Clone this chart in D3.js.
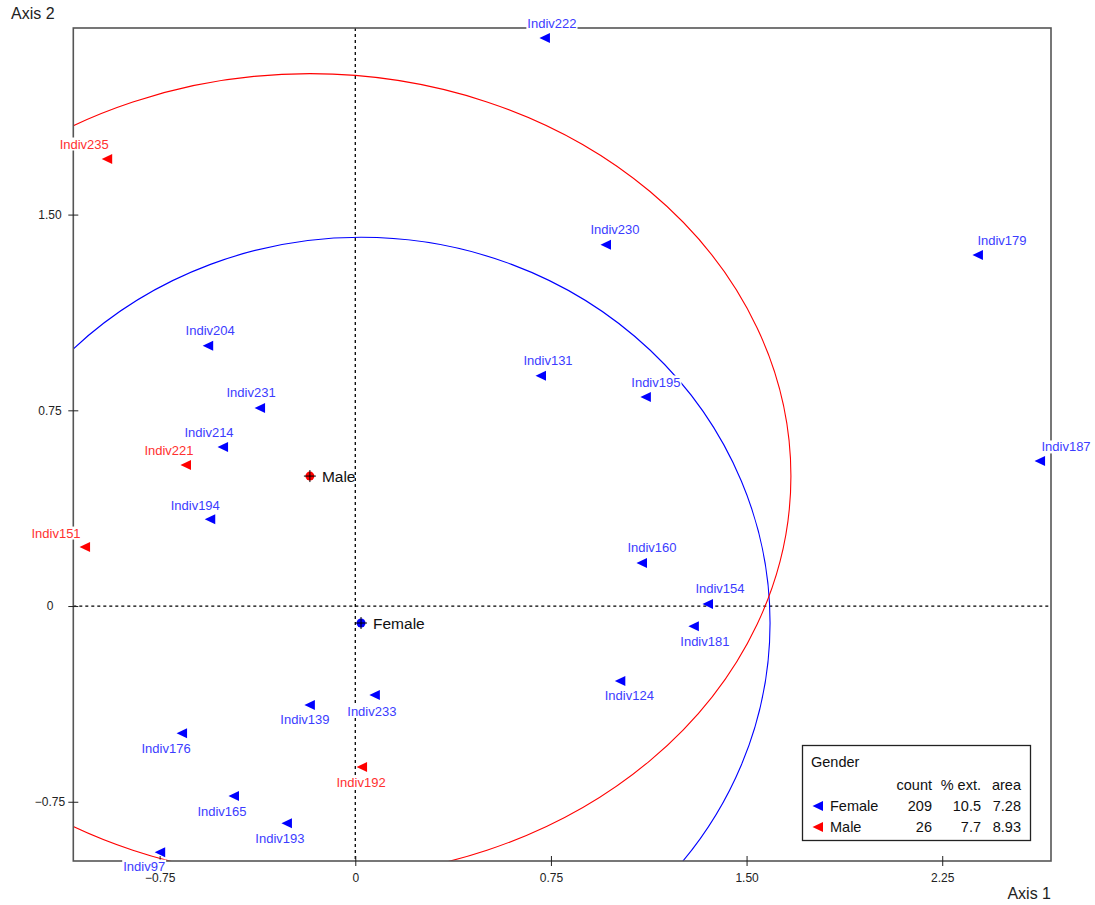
<!DOCTYPE html>
<html>
<head>
<meta charset="utf-8">
<script src="https://cdn.jsdelivr.net/npm/d3@7"></script>
<style>
  html, body { margin: 0; padding: 0; background: #fff; }
  svg { display: block; font-family: "Liberation Sans", Arial, sans-serif; }
</style>
</head>
<body>
<svg id="chart" width="1095" height="905"></svg>
<script>
// Individuals on the first factorial plane, grouped by gender
const indivNames = ["Indiv222","Indiv235","Indiv230","Indiv179","Indiv204","Indiv131","Indiv195","Indiv231",
  "Indiv214","Indiv221","Indiv187","Indiv194","Indiv151","Indiv160","Indiv154","Indiv181",
  "Indiv124","Indiv233","Indiv139","Indiv176","Indiv192","Indiv165","Indiv193","Indiv97"];
const indivAxis1 = [0.727,-0.951,0.961,2.387,-0.564,0.712,1.114,-0.365,
  -0.507,-0.649,2.625,-0.556,-1.036,1.099,1.352,1.298,
  1.016,0.075,-0.174,-0.664,0.026,-0.465,-0.262,-0.748];
const indivAxis2 = [2.177,1.713,1.384,1.345,0.997,0.882,0.801,0.759,
  0.609,0.540,0.556,0.333,0.226,0.165,0.008,-0.077,
  -0.287,-0.341,-0.379,-0.487,-0.617,-0.728,-0.832,-0.943];
const indivGender = ["Female","Male","Female","Female","Female","Female","Female","Female",
  "Female","Male","Female","Female","Male","Female","Female","Female",
  "Female","Female","Female","Female","Male","Female","Female","Female"];

// Label placement relative to each marker (pixels)
const labelDx = [7,-23,9,24,2,7,10,-9,-14,-17,26,-15,-29,10,12,11,9,-3,-5,-16,-1,-12,-7,-16];
const labelDy = [-14,-15,-15,-15,-15,-15,-15,-15,-15,-15,-14,-14,-14,-15,-15,15,15,16,15,15,15,15,15,14];

// Class centroids and ellipse half-axes
const groups = ["Female","Male"];
const groupAxis1 = [0.022,-0.174];
const groupAxis2 = [-0.065,0.498];
const groupRx = [1.568,1.844];
const groupRy = [1.478,1.542];
const groupCount = [209,26];
const groupExt = ["10.5","7.7"];
const groupArea = ["7.28","8.93"];
const groupColor = ["#0000ff","#ff0000"];
const labelColor = ["#3c3cff","#ff3030"];

const xTicks = [-0.75, 0, 0.75, 1.5, 2.25];
const yTicks = [-0.75, 0, 0.75, 1.5];
const fmtTick = v => v === 0 ? "0" : d3.format(".2f")(v);

const svg = d3.select("#chart");
const pLeft = 73.3, pRight = 1051, pTop = 28, pBottom = 861;
const x = d3.scaleLinear().domain([-1.081, 2.667]).range([pLeft, pRight]);
const y = d3.scaleLinear().domain([-0.977, 2.215]).range([pBottom, pTop]);

svg.append("defs").append("clipPath").attr("id", "plotClip")
  .append("rect").attr("x", pLeft).attr("y", pTop).attr("width", pRight - pLeft).attr("height", pBottom - pTop);

// Dashed zero lines
const plot = svg.append("g").attr("clip-path", "url(#plotClip)");
plot.append("line").attr("x1", x(0)).attr("x2", x(0)).attr("y1", pTop).attr("y2", pBottom)
  .attr("stroke", "#000").attr("stroke-width", 1.3).attr("stroke-dasharray", "3,3");
plot.append("line").attr("x1", pLeft).attr("x2", pRight).attr("y1", y(0)).attr("y2", y(0))
  .attr("stroke", "#000").attr("stroke-width", 1.3).attr("stroke-dasharray", "3,3");

// Class ellipses
groups.forEach((g, i) => {
  plot.append("ellipse")
    .attr("cx", x(groupAxis1[i])).attr("cy", y(groupAxis2[i]))
    .attr("rx", x(groupRx[i]) - x(0)).attr("ry", y(0) - y(groupRy[i]))
    .attr("fill", "none").attr("stroke", groupColor[i]).attr("stroke-width", 1.1);
});

// Frame
svg.append("rect").attr("x", pLeft).attr("y", pTop).attr("width", pRight - pLeft).attr("height", pBottom - pTop)
  .attr("fill", "none").attr("stroke", "#555").attr("stroke-width", 1.6);

// Axes with ticks crossing the frame
const xAxis = svg.append("g").attr("transform", `translate(0,${pBottom})`)
  .call(d3.axisBottom(x).tickValues(xTicks).tickFormat(fmtTick).tickSize(5).tickPadding(7));
xAxis.select(".domain").remove();
xAxis.selectAll(".tick line").attr("y1", -5).attr("stroke", "#222");
xAxis.selectAll(".tick text").attr("font-size", 12).attr("fill", "#222").attr("font-family", "Liberation Sans, Arial, sans-serif");

const yAxis = svg.append("g").attr("transform", `translate(${pLeft},0)`)
  .call(d3.axisLeft(y).tickValues(yTicks).tickFormat(fmtTick).tickSize(5).tickPadding(8));
yAxis.select(".domain").remove();
yAxis.selectAll(".tick line").attr("x1", 5).attr("stroke", "#222");
yAxis.selectAll(".tick text").attr("font-size", 12).attr("fill", "#222")
  .attr("text-anchor", "middle").attr("x", 50 - pLeft)
  .attr("font-family", "Liberation Sans, Arial, sans-serif");

svg.append("text").attr("x", 1051).attr("y", 899).attr("text-anchor", "end")
  .attr("font-size", 16).attr("fill", "#222").text("Axis 1");
svg.append("text").attr("x", 11).attr("y", 19)
  .attr("font-size", 16).attr("fill", "#222").text("Axis 2");

// Left-pointing triangle marker
const tri = d3.line()([[-5.5, 0], [5, -5], [5, 5]]) + "Z";

const points = indivNames.map((n, i) => ({
  name: n, a1: indivAxis1[i], a2: indivAxis2[i], g: groups.indexOf(indivGender[i]),
  dx: labelDx[i], dy: labelDy[i]
}));

svg.append("g").selectAll("path").data(points).join("path")
  .attr("d", tri)
  .attr("transform", d => `translate(${x(d.a1)},${y(d.a2)})`)
  .attr("fill", d => groupColor[d.g]);

// Individual labels on white boxes
const labG = svg.append("g");
points.forEach(d => {
  const g = labG.append("g");
  const t = g.append("text")
    .attr("x", x(d.a1) + d.dx).attr("y", y(d.a2) + d.dy + 4.5)
    .attr("text-anchor", "middle").attr("font-size", 13)
    .attr("fill", labelColor[d.g]).text(d.name);
  const b = t.node().getBBox();
  g.insert("rect", "text").attr("x", b.x - 1).attr("y", b.y + 1).attr("width", b.width + 2).attr("height", b.height - 2)
    .attr("fill", "#fff");
});

// Class centroids
groups.forEach((g, i) => {
  const cx = x(groupAxis1[i]), cy = y(groupAxis2[i]);
  svg.append("circle").attr("cx", cx).attr("cy", cy).attr("r", 4.5).attr("fill", groupColor[i]);
  svg.append("path").attr("d", `M${cx - 6},${cy}H${cx + 6}M${cx},${cy - 6}V${cy + 6}`)
    .attr("stroke", "#000").attr("stroke-width", 1);
  svg.append("text").attr("x", cx + 12).attr("y", cy + 6).attr("font-size", 15.5)
    .attr("fill", "#111").text(g);
});

// Legend
const lg = svg.append("g");
lg.append("rect").attr("x", 802.5).attr("y", 745.5).attr("width", 228).attr("height", 95)
  .attr("fill", "#fff").attr("stroke", "#222").attr("stroke-width", 1.3);
lg.append("text").attr("x", 811).attr("y", 767).attr("font-size", 14.5).attr("fill", "#111").text("Gender");
const colRight = [932, 981, 1021];
["count", "% ext.", "area"].forEach((h, j) => {
  lg.append("text").attr("x", colRight[j]).attr("y", 790).attr("text-anchor", "end")
    .attr("font-size", 14.5).attr("fill", "#111").text(h);
});
groups.forEach((g, i) => {
  const by = 811 + i * 21;
  lg.append("path").attr("d", tri).attr("transform", `translate(818,${by - 5})`).attr("fill", groupColor[i]);
  lg.append("text").attr("x", 830).attr("y", by).attr("font-size", 14.5).attr("fill", "#111").text(g);
  [groupCount[i], groupExt[i], groupArea[i]].forEach((v, j) => {
    lg.append("text").attr("x", colRight[j]).attr("y", by).attr("text-anchor", "end")
      .attr("font-size", 14.5).attr("fill", "#111").text(v);
  });
});
</script>
</body>
</html>
